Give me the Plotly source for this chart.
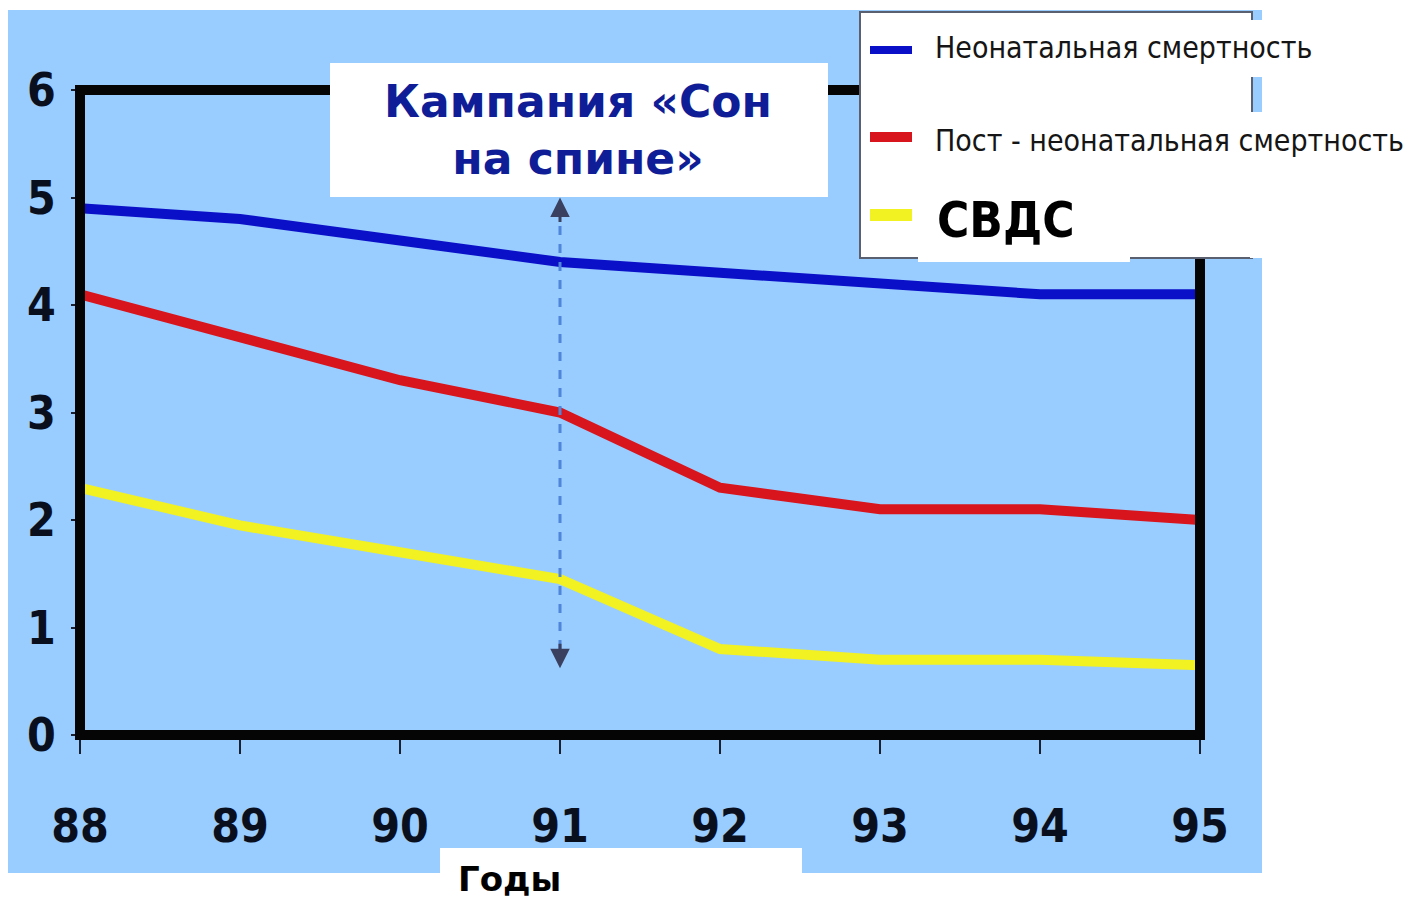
import plotly.graph_objects as go

# Data
years = [88, 89, 90, 91, 92, 93, 94, 95]
neonatal = [4.9, 4.8, 4.6, 4.4, 4.3, 4.2, 4.1, 4.1]
post_neonatal = [4.1, 3.7, 3.3, 3.0, 2.3, 2.1, 2.1, 2.0]
sids = [2.3, 1.95, 1.7, 1.45, 0.8, 0.7, 0.7, 0.65]
series_names = ["Неонатальная смертность", "Пост - неонатальная смертность", "СВДС"]
y_ticks = [0, 1, 2, 3, 4, 5, 6]
campaign_year = 91
title_text = "Кампания «Сон<br>на спине»"
x_title = "Годы"

BG = "#99ccff"
colors = ["#0a10c8", "#d8141c", "#f2f222"]

# page has an 8px body margin, so the figure is drawn 8px smaller
OFF = 8
W, H = 1417 - OFF, 899 - OFF
# plot area in page pixels
L, R, T, B = 80, 1200, 90, 735


def px(x):
    return (x - L) / (R - L)


def py(y):
    return (B - y) / (B - T)


fig = go.Figure()

for name, vals, col in zip(series_names, [neonatal, post_neonatal, sids], colors):
    fig.add_scatter(x=years, y=vals, name=name, mode="lines",
                    line=dict(color=col, width=10), showlegend=False)

tick_font = dict(family="Liberation Sans Narrow, DejaVu Sans Condensed",
                 size=46, color="#0a0f1e", weight="bold")

fig.update_xaxes(range=[88, 95], tickvals=years, ticks="outside", ticklen=18,
                 tickwidth=2, tickcolor="#1a2030", showline=False, showgrid=False,
                 zeroline=False, tickfont=tick_font, ticklabelstandoff=33)
fig.update_yaxes(range=[0, 6], tickvals=y_ticks, ticks="outside", ticklen=8,
                 tickwidth=2, tickcolor="#1a2030", showline=False, showgrid=False,
                 zeroline=False, tickfont=tick_font, ticklabelstandoff=6)

shapes = []
# blue slide background
shapes.append(dict(type="rect", xref="paper", yref="paper", x0=px(7), x1=px(1262),
                   y0=py(873), y1=py(10), fillcolor=BG, line_width=0, layer="below"))
# dashed campaign marker
shapes.append(dict(type="line", xref="x", yref="y", x0=campaign_year, x1=campaign_year,
                   y0=0.8, y1=4.8, line=dict(color="#4f86d9", width=3, dash="dash"),
                   layer="above"))
# thick frame
shapes.append(dict(type="rect", xref="paper", yref="paper", x0=0, x1=1, y0=0, y1=1,
                   line=dict(color="#050505", width=10), layer="above"))
# title box
shapes.append(dict(type="rect", xref="paper", yref="paper", x0=px(330), x1=px(828),
                   y0=py(197), y1=py(63), fillcolor="white", line_width=0, layer="above"))
# legend box
shapes.append(dict(type="rect", xref="paper", yref="paper", x0=px(860), x1=px(1252),
                   y0=py(258), y1=py(12), fillcolor="white",
                   line=dict(color="#5a6070", width=2), layer="above"))
# white patches behind legend texts
for x0, x1, y0, y1 in [(918, 1266, 20, 77), (918, 1417, 112, 170),
                       (918, 1130, 170, 262), (1250, 1266, 170, 258)]:
    shapes.append(dict(type="rect", xref="paper", yref="paper", x0=px(x0), x1=px(x1),
                       y0=py(y1), y1=py(y0), fillcolor="white", line_width=0,
                       layer="above"))
# legend samples
for col, yc, w in zip(colors, [50, 137, 215], [8, 10, 12]):
    shapes.append(dict(type="line", xref="paper", yref="paper", x0=px(870), x1=px(912),
                       y0=py(yc), y1=py(yc), line=dict(color=col, width=w),
                       layer="above"))
# white patch under axis title
shapes.append(dict(type="rect", xref="paper", yref="paper", x0=px(440), x1=px(802),
                   y0=py(899), y1=py(848), fillcolor="white", line_width=0,
                   layer="above"))

annotations = [
    dict(text=title_text, xref="paper", yref="paper", x=px(578), y=py(130),
         showarrow=False, xanchor="center", yanchor="middle",
         font=dict(family="DejaVu Sans", size=44, color="#0f1e96", weight="bold")),
    dict(text=series_names[0], xref="paper", yref="paper", x=px(933), y=py(48),
         showarrow=False, xanchor="left", yanchor="middle",
         font=dict(family="DejaVu Sans Condensed", size=30, color="#151515")),
    dict(text=series_names[1], xref="paper", yref="paper", x=px(933), y=py(140),
         showarrow=False, xanchor="left", yanchor="middle",
         font=dict(family="DejaVu Sans Condensed", size=30, color="#151515")),
    dict(text=series_names[2], xref="paper", yref="paper", x=px(935), y=py(220),
         showarrow=False, xanchor="left", yanchor="middle",
         font=dict(family="DejaVu Sans Condensed", size=49, color="#000000",
                   weight="bold")),
    dict(text=x_title, xref="paper", yref="paper", x=px(456), y=py(879),
         showarrow=False, xanchor="left", yanchor="middle",
         font=dict(family="DejaVu Sans", size=34, color="#000000", weight="bold")),
    # arrowheads of the campaign marker
    dict(text="", x=campaign_year, y=5.0, xref="x", yref="y", ax=0, ay=26,
         showarrow=True, arrowhead=2, arrowsize=1.3, arrowwidth=3,
         arrowcolor="#3a4060", standoff=0),
    dict(text="", x=campaign_year, y=0.62, xref="x", yref="y", ax=0, ay=-26,
         showarrow=True, arrowhead=2, arrowsize=1.3, arrowwidth=3,
         arrowcolor="#3a4060", standoff=0),
]

fig.update_layout(
    width=W, height=H,
    margin=dict(l=L - OFF, r=W - (R - OFF), t=T - OFF, b=H - (B - OFF), pad=0),
    paper_bgcolor="white",
    plot_bgcolor=BG,
    shapes=shapes,
    annotations=annotations,
    showlegend=False,
)

fig.write_html("out.html")
